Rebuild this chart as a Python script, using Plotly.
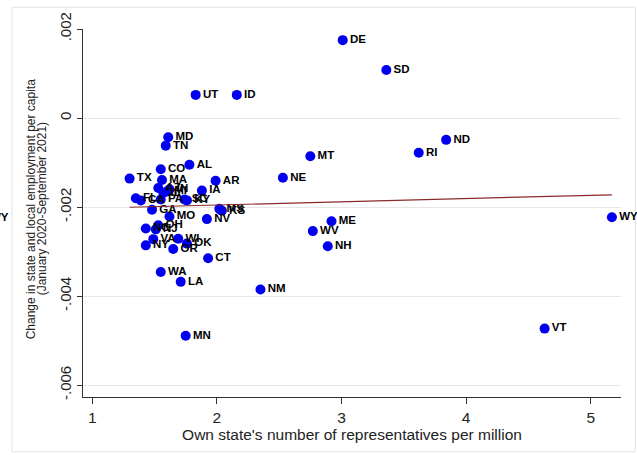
import numpy as np
import plotly.graph_objects as go

states = ["AL","AZ","AR","CA","CO","CT","DE","FL","GA","ID","IL","IN","IA","KS","KY","LA",
          "ME","MD","MA","MI","MN","MS","MO","MT","NE","NV","NH","NJ","NM","NY","NC","ND",
          "OH","OK","OR","PA","RI","SC","SD","TN","TX","UT","VT","VA","WA","WV","WI","WY"]
reps_per_million = [1.78,1.53,1.99,1.39,1.55,1.93,3.01,1.35,1.48,2.16,1.57,1.62,1.88,2.04,1.76,1.71,
                    2.92,1.61,1.56,1.60,1.75,2.02,1.62,2.75,2.53,1.92,2.89,1.51,2.35,1.43,1.43,3.84,
                    1.53,1.76,1.65,1.55,3.62,1.74,3.36,1.59,1.30,1.83,4.63,1.49,1.55,2.77,1.69,5.17]
emp_change = [-0.00105,-0.00157,-0.00141,-0.00185,-0.00115,-0.00315,0.00175,-0.00180,-0.00206,0.00052,
              -0.00168,-0.00160,-0.00163,-0.00208,-0.00185,-0.00368,-0.00232,-0.00043,-0.00139,-0.00165,
              -0.00489,-0.00204,-0.00221,-0.00086,-0.00134,-0.00227,-0.00288,-0.00250,-0.00385,-0.00286,
              -0.00248,-0.00049,-0.00241,-0.00282,-0.00294,-0.00183,-0.00078,-0.00183,0.00108,-0.00062,
              -0.00136,0.00052,-0.00473,-0.00272,-0.00346,-0.00254,-0.00271,-0.00223]
# state population (millions, 2020) used as analytic weights for the fitted line
population = [5.02,7.15,3.01,39.5,5.77,3.60,0.99,21.5,10.7,1.84,12.8,6.79,3.19,2.94,4.51,4.66,
              1.36,6.18,7.03,10.08,5.71,2.96,6.15,1.08,1.96,3.10,1.38,9.29,2.12,20.2,10.4,0.78,
              11.8,3.96,4.24,13.0,1.10,5.12,0.89,6.91,29.1,3.27,0.64,8.63,7.71,1.79,5.89,0.58]

y_ticks = [0.002, 0.0, -0.002, -0.004, -0.006]
y_tick_labels = [".002", "0", "-.002", "-.004", "-.006"]
x_ticks = [1, 2, 3, 4, 5]

x = np.array(reps_per_million)
y = np.array(emp_change)
w = np.sqrt(np.array(population))
slope, intercept = np.polyfit(x, y, 1, w=w)
fit_x = [x.min(), x.max()]
fit_y = [intercept + slope * v for v in fit_x]

FONT = "Liberation Sans, Arial, sans-serif"

fig = go.Figure()
fig.add_trace(go.Scatter(
    x=reps_per_million, y=emp_change, mode="markers+text", text=states,
    textposition="middle right", cliponaxis=False,
    marker=dict(color="#0000ee", size=10, line=dict(width=0)),
    textfont=dict(family=FONT, size=11.5, color="black", weight="bold"),
    showlegend=False, hoverinfo="skip"))
fig.add_trace(go.Scatter(
    x=fit_x, y=fit_y, mode="lines",
    line=dict(color="#8c2a2a", width=1.2), showlegend=False, hoverinfo="skip"))

fig.update_layout(
    width=637, height=455,
    margin=dict(l=83, r=16, t=25, b=58),
    paper_bgcolor="white", plot_bgcolor="white",
    font=dict(family=FONT, color="#222"),
    xaxis=dict(range=[0.926, 5.243], tickvals=x_ticks, ticks="outside", ticklen=6,
               tickcolor="#333", showline=True, linecolor="#333", linewidth=1,
               showgrid=False, zeroline=False, tickfont=dict(size=15.5),
               title=dict(text="Own state's number of representatives per million",
                          font=dict(size=15.5), standoff=4)),
    yaxis=dict(range=[-0.006266, 0.002], tickvals=y_ticks, ticktext=y_tick_labels,
               tickangle=-90, ticks="outside", ticklen=5, tickcolor="#333",
               showline=True, linecolor="#333", linewidth=1,
               showgrid=True, gridcolor="#e6e6e6", gridwidth=1, zeroline=False,
               tickfont=dict(size=15)),
    shapes=[dict(type="rect", xref="paper", yref="paper", x0=-0.132, x1=1.0266,
                 y0=-0.1488, y1=1.0592, line=dict(color="#e2e2e2", width=1),
                 fillcolor="rgba(0,0,0,0)", layer="below")],
    annotations=[
        dict(text="Change in state and local employment per capita",
             xref="paper", yref="paper", x=0, y=0.51, xanchor="center", yanchor="middle",
             xshift=-52, textangle=-90, showarrow=False,
             font=dict(size=12, family=FONT, color="#222")),
        dict(text="(January 2020-September 2021)",
             xref="paper", yref="paper", x=0, y=0.51, xanchor="center", yanchor="middle",
             xshift=-41, textangle=-90, showarrow=False,
             font=dict(size=12, family=FONT, color="#222")),
        dict(text="<b>WY</b>", xref="paper", yref="y", x=0, y=-0.00223, xanchor="right",
             xshift=-72, showarrow=False, font=dict(size=11.5, family=FONT, color="black")),
    ],
)

fig.write_html("out.html", config={"displayModeBar": False},
               post_script="document.body.style.margin='0';document.body.style.padding='0';")
